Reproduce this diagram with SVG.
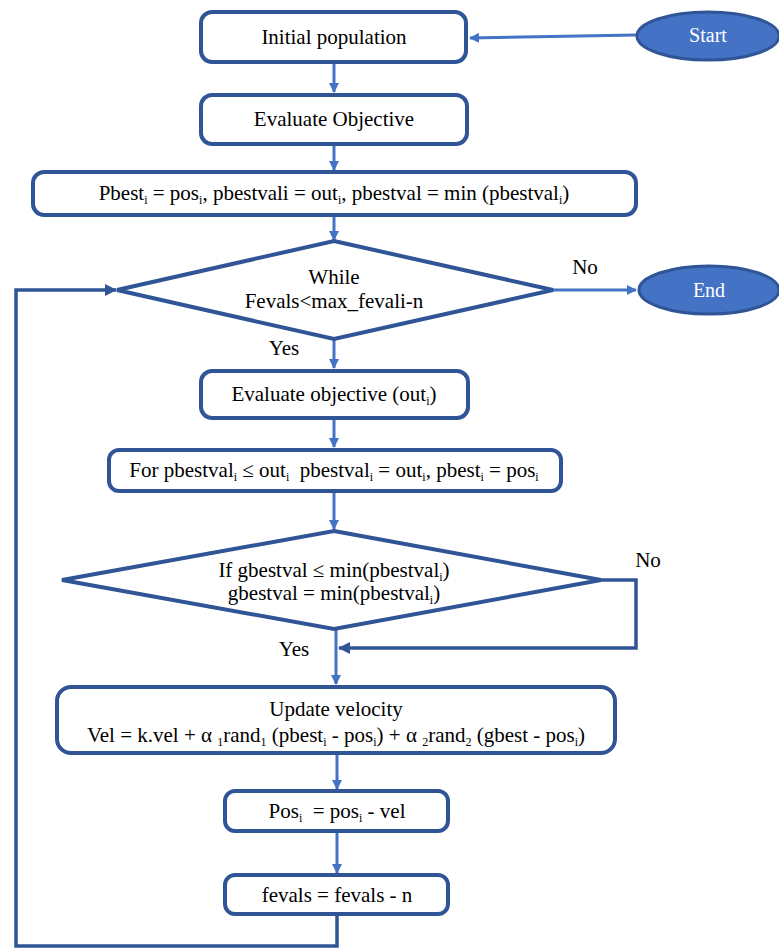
<svg xmlns="http://www.w3.org/2000/svg" width="779" height="948" viewBox="0 0 779 948">
<style>
.box{fill:#fff;stroke:#2F5597;stroke-width:4}
.term{fill:#4472C4;stroke:#2F5597;stroke-width:3}
text{font-family:"Liberation Serif","Times New Roman",Times,"DejaVu Serif","Noto Serif",serif}
.t{font-size:21px;fill:#000;text-anchor:middle}
.tw{font-size:20px;fill:#fff;text-anchor:middle}
.s{font-size:12px}
.c{fill:none;stroke:#4472C4;stroke-width:3}
.cd{fill:none;stroke:#2F5597;stroke-width:3.5}
</style>
<defs>
<marker id="ah" markerWidth="10" markerHeight="10" refX="9" refY="5" orient="auto" markerUnits="userSpaceOnUse" viewBox="0 0 10 10">
<path d="M0,0 L10,5 L0,10 z" fill="#4472C4"/>
</marker>
<marker id="ahd" markerWidth="12" markerHeight="12" refX="11" refY="6" orient="auto" markerUnits="userSpaceOnUse" viewBox="0 0 12 12">
<path d="M0,0 L12,6 L0,12 z" fill="#2F5597"/>
</marker>
</defs>
<g id="connectors">
<path class="c" d="M636,35 L470,38" marker-end="url(#ah)"/>
<path class="c" d="M334,62 L334,92" marker-end="url(#ah)"/>
<path class="c" d="M334,144 L334,170" marker-end="url(#ah)"/>
<path class="c" d="M334,215 L334,240" marker-end="url(#ah)"/>
<path class="c" d="M553,290 L636,290" marker-end="url(#ah)"/>
<path class="c" d="M334,339 L334,368" marker-end="url(#ah)"/>
<path class="c" d="M334,418 L334,447" marker-end="url(#ah)"/>
<path class="c" d="M334,491 L334,529" marker-end="url(#ah)"/>
<path class="cd" d="M601,580 L636,580 L636,648 L339,648" marker-end="url(#ahd)"/>
<path class="c" d="M336,629 L336,684" marker-end="url(#ah)"/>
<path class="c" d="M337,753 L337,789" marker-end="url(#ah)"/>
<path class="c" d="M337,831 L337,873" marker-end="url(#ah)"/>
<path class="cd" d="M337,914 L337,946 L16,946 L16,290 L116,290" marker-end="url(#ahd)"/>
</g>
<g id="start">
<ellipse class="term" cx="708" cy="36" rx="71" ry="24"/>
<text class="tw" x="708" y="42">Start</text>
</g>
<g id="initial">
<rect class="box" x="201" y="12" width="265" height="50" rx="11"/>
<text class="t" x="334" y="44">Initial population</text>
</g>
<g id="evaluate1">
<rect class="box" x="201" y="95" width="266" height="49" rx="11"/>
<text class="t" x="334" y="126">Evaluate Objective</text>
</g>
<g id="pbest">
<rect class="box" x="33" y="172" width="603" height="43" rx="11"/>
<text class="t" x="334" y="200">Pbest<tspan class="s" dy="4">i</tspan><tspan dy="-4"> = pos</tspan><tspan class="s" dy="4">i</tspan><tspan dy="-4">, pbestvali = out</tspan><tspan class="s" dy="4">i</tspan><tspan dy="-4">, pbestval = min (pbestval</tspan><tspan class="s" dy="4">i</tspan><tspan dy="-4">)</tspan></text>
</g>
<g id="while">
<polygon class="box" points="334,241 553,290 334,339 117,290"/>
<text class="t" x="334" y="284">While</text>
<text class="t" x="334" y="308">Fevals&lt;max_fevali-n</text>
</g>
<g id="end">
<ellipse class="term" cx="709" cy="290" rx="70" ry="24"/>
<text class="tw" x="709" y="297">End</text>
</g>
<text class="t" x="585" y="274">No</text>
<text class="t" x="284" y="355">Yes</text>
<g id="evaluate2">
<rect class="box" x="201" y="371" width="267" height="47" rx="11"/>
<text class="t" x="334" y="401">Evaluate objective (out<tspan class="s" dy="4">i</tspan><tspan dy="-4">)</tspan></text>
</g>
<g id="forbox">
<rect class="box" x="109" y="450" width="452" height="41" rx="10"/>
<text class="t" x="334" y="477">For pbestval<tspan class="s" dy="4">i</tspan><tspan dy="-4"> ≤ out</tspan><tspan class="s" dy="4">i</tspan><tspan dy="-4">&#160; pbestval</tspan><tspan class="s" dy="4">i</tspan><tspan dy="-4"> = out</tspan><tspan class="s" dy="4">i</tspan><tspan dy="-4">, pbest</tspan><tspan class="s" dy="4">i</tspan><tspan dy="-4"> = pos</tspan><tspan class="s" dy="4">i</tspan></text>
</g>
<g id="ifgbest">
<polygon class="box" points="334,531 601,580 334,629 62,580"/>
<text class="t" x="334" y="577">If gbestval ≤ min(pbestval<tspan class="s" dy="4">i</tspan><tspan dy="-4">)</tspan></text>
<text class="t" x="334" y="600">gbestval = min(pbestval<tspan class="s" dy="4">i</tspan><tspan dy="-4">)</tspan></text>
</g>
<text class="t" x="648" y="567">No</text>
<text class="t" x="294" y="656">Yes</text>
<g id="update">
<rect class="box" x="57" y="687" width="558" height="66" rx="14"/>
<text class="t" x="336" y="716">Update velocity</text>
<text class="t" x="336" y="742">Vel = k.vel + α <tspan class="s" dy="4">1</tspan><tspan dy="-4">rand</tspan><tspan class="s" dy="4">1</tspan><tspan dy="-4"> (pbest</tspan><tspan class="s" dy="4">i</tspan><tspan dy="-4"> - pos</tspan><tspan class="s" dy="4">i</tspan><tspan dy="-4">) + α </tspan><tspan class="s" dy="4">2</tspan><tspan dy="-4">rand</tspan><tspan class="s" dy="4">2</tspan><tspan dy="-4"> (gbest - pos</tspan><tspan class="s" dy="4">i</tspan><tspan dy="-4">)</tspan></text>
</g>
<g id="pos">
<rect class="box" x="225" y="791" width="223" height="40" rx="10"/>
<text class="t" x="337" y="818">Pos<tspan class="s" dy="4">i</tspan><tspan dy="-4">&#160; = pos</tspan><tspan class="s" dy="4">i</tspan><tspan dy="-4"> - vel</tspan></text>
</g>
<g id="fevals">
<rect class="box" x="225" y="875" width="223" height="39" rx="10"/>
<text class="t" x="337" y="902">fevals = fevals - n</text>
</g>
</svg>
